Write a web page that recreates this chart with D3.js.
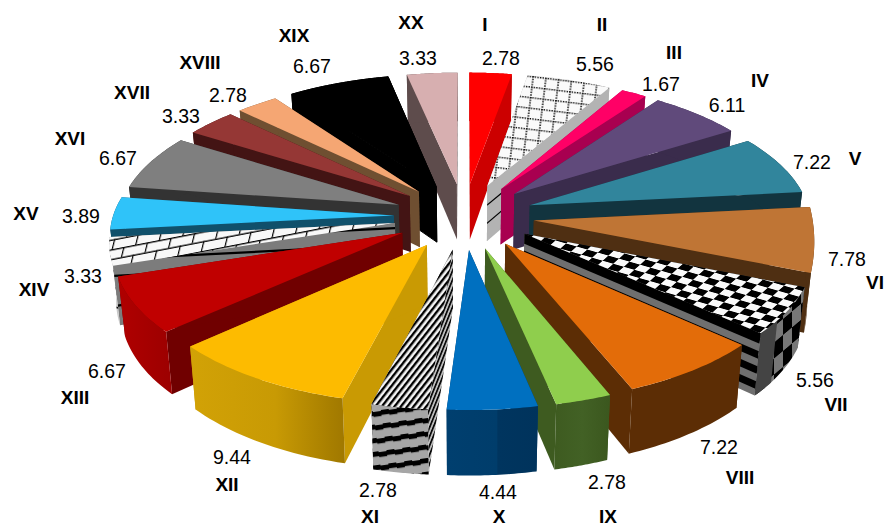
<!DOCTYPE html>
<html>
<head>
<meta charset="utf-8">
<script src="https://cdn.jsdelivr.net/npm/d3@7/dist/d3.min.js"></script>
<style>
html,body{margin:0;padding:0;background:#fff;}
svg{display:block;}
text{font-family:"Liberation Sans",Arial,sans-serif;fill:#000;}
</style>
</head>
<body>
<svg id="chart" width="885" height="528"></svg>
<script>
// Share of each numbered category, in chart order, clockwise from twelve o'clock.
const categories = ["I","II","III","IV","V","VI","VII","VIII","IX","X","XI","XII","XIII","XIV","XV","XVI","XVII","XVIII","XIX","XX"];
const values = [2.78,5.56,1.67,6.11,7.22,7.78,5.56,7.22,2.78,4.44,2.78,9.44,6.67,3.33,3.89,6.67,3.33,2.78,6.67,3.33];

// Fill of the top face, the radial cut wall and the outer rim of every slice.
const topFills = ["#ff0000","url(#p2top)","#ff0066","#604a7b","#31859c","#bf7535","url(#p7top)","#e36c09","#8fce4d","#0070c0","url(#p11top)","#fdbb00","#c00000","url(#p14top)","#2fc3f9","#7f7f7f","#953735","#f5a673","#000000","#d7afb0"];
const cutFills = ["#cc0000","#b3b3b3","#a80050","#3a2c4c","#12343f","#4f2f12","#6f6f6f","#5c2d05","#3e5b20","#003a66","url(#p11cut)","#c99a03","#700000","#7c7c7c","#10506b","#333333","#431414","#6f4f31","#000000","#5e4c4c"];
const rimFills = ["#cc0000","#b3b3b3","#a80050","#3a2c4c","#12343f","#4f2f12","url(#p7rim)","#5c2d05","url(#gIX)","url(#gX)","url(#p11rim)","url(#gXII)","url(#gXIII)","url(#p14rim)","#10506b","#333333","#431414","#6f4f31","#000000","#5e4c4c"];

// Black bands running along a cut wall, as [from, to] fractions of the wall height.
const cutBands = {
  "II": [[0.33,0.36],[0.66,0.69]],
  "VII": [[0,0.17],[0.29,0.41],[0.53,0.65],[0.77,0.89]],
  "XIV": [[0.07,0.11],[0.36,0.40],[0.65,0.69]]
};

// How far a slice's outer arc is eased towards its chord (0 keeps the true arc).
const rimEasing = { "VI": 0.55 };

// Centre of each text label on the page.
const nameAnchors = [[485,24],[602,24],[674,52],[760,80],[855,158],[875,282],[836,404],[740,477],[608,516],[499,516],[370,516],[227,484],[75,397],[34,289],[26,213],[70,138],[132,92],[200,62],[294,35],[411,22]];
const valueAnchors = [[501,58],[595,64],[661,84],[727,105],[812,162],[847,259],[815,380],[719,447],[607,482],[498,492],[378,490],[232,457],[107,371],[83,276],[81,216],[118,158],[181,116],[228,95],[312,66],[418,58]];

const svg = d3.select("#chart");
const defs = svg.append("defs");

// Perspective set-up: ground-plane coordinates are normalised to the exploded radius.
const explode = 0.2, radius = 0.8, perspective = 0.15;
const xScale = d3.scaleLinear().domain([-1,1]).range([464-351,464+351]);
const yScale = d3.scaleLinear().domain([-1,1]).range([216+165,216-165]);

function project(mid, r, ang, lift){
  const u = explode*Math.sin(mid) + r*Math.sin(ang);
  const v = explode*Math.cos(mid) + r*Math.cos(ang);
  const w = 1 + perspective*v;
  const shrink = 1 - 0.02*lift;
  const drop = lift*(57 - 8.5*v);
  return [xScale(u*shrink/w), yScale(v/w) + drop];
}

function tile(id, w, h, transform, bg, draw){
  const p = defs.append("pattern").attr("id",id).attr("patternUnits","userSpaceOnUse")
    .attr("width",w).attr("height",h).attr("patternTransform",transform);
  p.append("rect").attr("width",w).attr("height",h).attr("fill",bg);
  draw(p);
}
function bar(p,x,y,w,h,c){ p.append("rect").attr("x",x).attr("y",y).attr("width",w).attr("height",h).attr("fill",c); }

// Dotted lattice on II
tile("p2top",12.8,10.5,"rotate(7)","#fafafa",p=>{
  p.append("line").attr("x1",0).attr("y1",0.7).attr("x2",12.8).attr("y2",0.7).attr("stroke","#000").attr("stroke-width",1.5).attr("stroke-dasharray","1.4 1.2");
  p.append("line").attr("x1",1).attr("y1",0).attr("x2",1).attr("y2",10.5).attr("stroke","#000").attr("stroke-width",1.5).attr("stroke-dasharray","1.4 1.225");
});
// Checkerboard on VII
tile("p7top",22,13,"rotate(16) skewX(-32)","#fafafa",p=>{ bar(p,0,0,11,6.5,"#000"); bar(p,11,6.5,11,6.5,"#000"); });
tile("p7rim",18,32,"skewY(-40)","#777",p=>{ bar(p,0,0,9,16,"#000"); bar(p,9,16,9,16,"#000"); });
// Diagonal stripes and stepped waves on XI
tile("p11top",5,5,"rotate(-52)","#f5f5f5",p=>bar(p,0,0,5,2.4,"#000"));
tile("p11cut",3.4,3.4,"rotate(-68)","#bdbdbd",p=>bar(p,0,0,3.4,1.6,"#000"));
tile("p11rim",16,13.5,"rotate(-8)","#a6a6a6",p=>{ bar(p,0,0,8,5,"#000"); bar(p,8,1,8,5,"#000"); });
// Brick wall on XIV
tile("p14top",24,19,"rotate(-11) skewX(-25)","#f8f8f8",p=>{
  bar(p,0,0,24,1.3,"#000"); bar(p,0,9.5,24,1.3,"#000");
  bar(p,6,0,1.3,9.5,"#000"); bar(p,18,9.5,1.3,9.5,"#000");
});
tile("p14rim",14,12.5,"rotate(8)","#c8c8c8",p=>bar(p,0,0,7,1.6,"#000"));

// Left-to-right shading on the curved outer walls
function shade(id, stops){
  const g = defs.append("linearGradient").attr("id",id).attr("x1",0).attr("x2",1).attr("y1",0).attr("y2",0);
  stops.forEach(s=>g.append("stop").attr("offset",s[0]).attr("stop-color",s[1]));
}
shade("gIX",[[0,"#3e5b20"],[0.5,"#426125"],[1,"#3b571e"]]);
shade("gX",[[0,"#003f6f"],[0.55,"#003d6b"],[0.56,"#00355f"],[1,"#00335c"]]);
shade("gXII",[[0,"#d2a206"],[0.55,"#c89a04"],[0.9,"#a87f00"],[1,"#a07800"]]);
shade("gXIII",[[0,"#b00000"],[1,"#9c0000"]]);

const arcs = d3.pie().sort(null).value(d=>d).startAngle(0).endAngle(2*Math.PI)(values);
const line = d3.line();

// Draw from the far side of the pie towards the viewer so near slices overlap far ones.
const order = arcs.map((a,i)=>({a,i,mid:(a.startAngle+a.endAngle)/2}))
  .sort((p,q)=>Math.cos(q.mid)-Math.cos(p.mid));

const slices = svg.append("g").selectAll("g").data(order).join("g");
slices.each(function(d){
  const g = d3.select(this), a0 = d.a.startAngle, a1 = d.a.endAngle, m = d.mid;
  const name = categories[d.i];
  const steps = d3.range(0,25).map(k=>a0+(a1-a0)*k/24);
  const ease = rimEasing[name]||0;
  const rimRadius = t => radius + ease*(radius*Math.cos((a1-a0)/2)/Math.cos(t-m) - radius);
  const upper = steps.map(t=>project(m,rimRadius(t),t,0));
  const lower = steps.map(t=>project(m,rimRadius(t),t,1));
  // A slice whose walls share the top's colour gets a matching edge so no seam shows.
  const seamless = topFills[d.i]===cutFills[d.i];
  const edge = sel => seamless ? sel.attr("stroke",cutFills[d.i]).attr("stroke-width",1) : sel;
  // radial cut walls, with any banding laid over them
  [a0,a1].forEach(t=>{
    edge(g.append("path").attr("fill",cutFills[d.i])
      .attr("d",line([project(m,0,m,0),project(m,radius,t,0),project(m,radius,t,1),project(m,0,m,1)])+"Z"));
    (cutBands[name]||[]).forEach(b=>{
      g.append("path").attr("fill","#000")
        .attr("d",line([project(m,0,m,b[0]),project(m,radius,t,b[0]),project(m,radius,t,b[1]),project(m,0,m,b[1])])+"Z");
    });
  });
  // curved outer wall
  edge(g.append("path").attr("fill",rimFills[d.i])
    .attr("d",line(upper.concat(lower.slice().reverse()))+"Z"));
  if(name==="VII"){
    // darker facet at the wall's near corner
    const few = steps.slice(17);
    g.append("path").attr("fill","#444")
      .attr("d",line(few.map(t=>project(m,radius,t,0)).concat(few.map(t=>project(m,radius,t,1)).reverse()))+"Z");
  }
  // top face
  edge(g.append("path").attr("fill",topFills[d.i])
    .attr("d",line([project(m,0,m,0)].concat(upper))+"Z"));
});

// Category names in bold, values in regular weight
svg.append("g").selectAll("text").data(categories).join("text")
  .attr("x",(d,i)=>nameAnchors[i][0]).attr("y",(d,i)=>nameAnchors[i][1]+6.5)
  .attr("text-anchor","middle").attr("font-size",19).attr("font-weight","bold").text(d=>d);
svg.append("g").selectAll("text").data(values).join("text")
  .attr("x",(d,i)=>valueAnchors[i][0]).attr("y",(d,i)=>valueAnchors[i][1]+7)
  .attr("text-anchor","middle").attr("font-size",19.5).text(d=>d3.format(".2f")(d));
</script>
</body>
</html>
